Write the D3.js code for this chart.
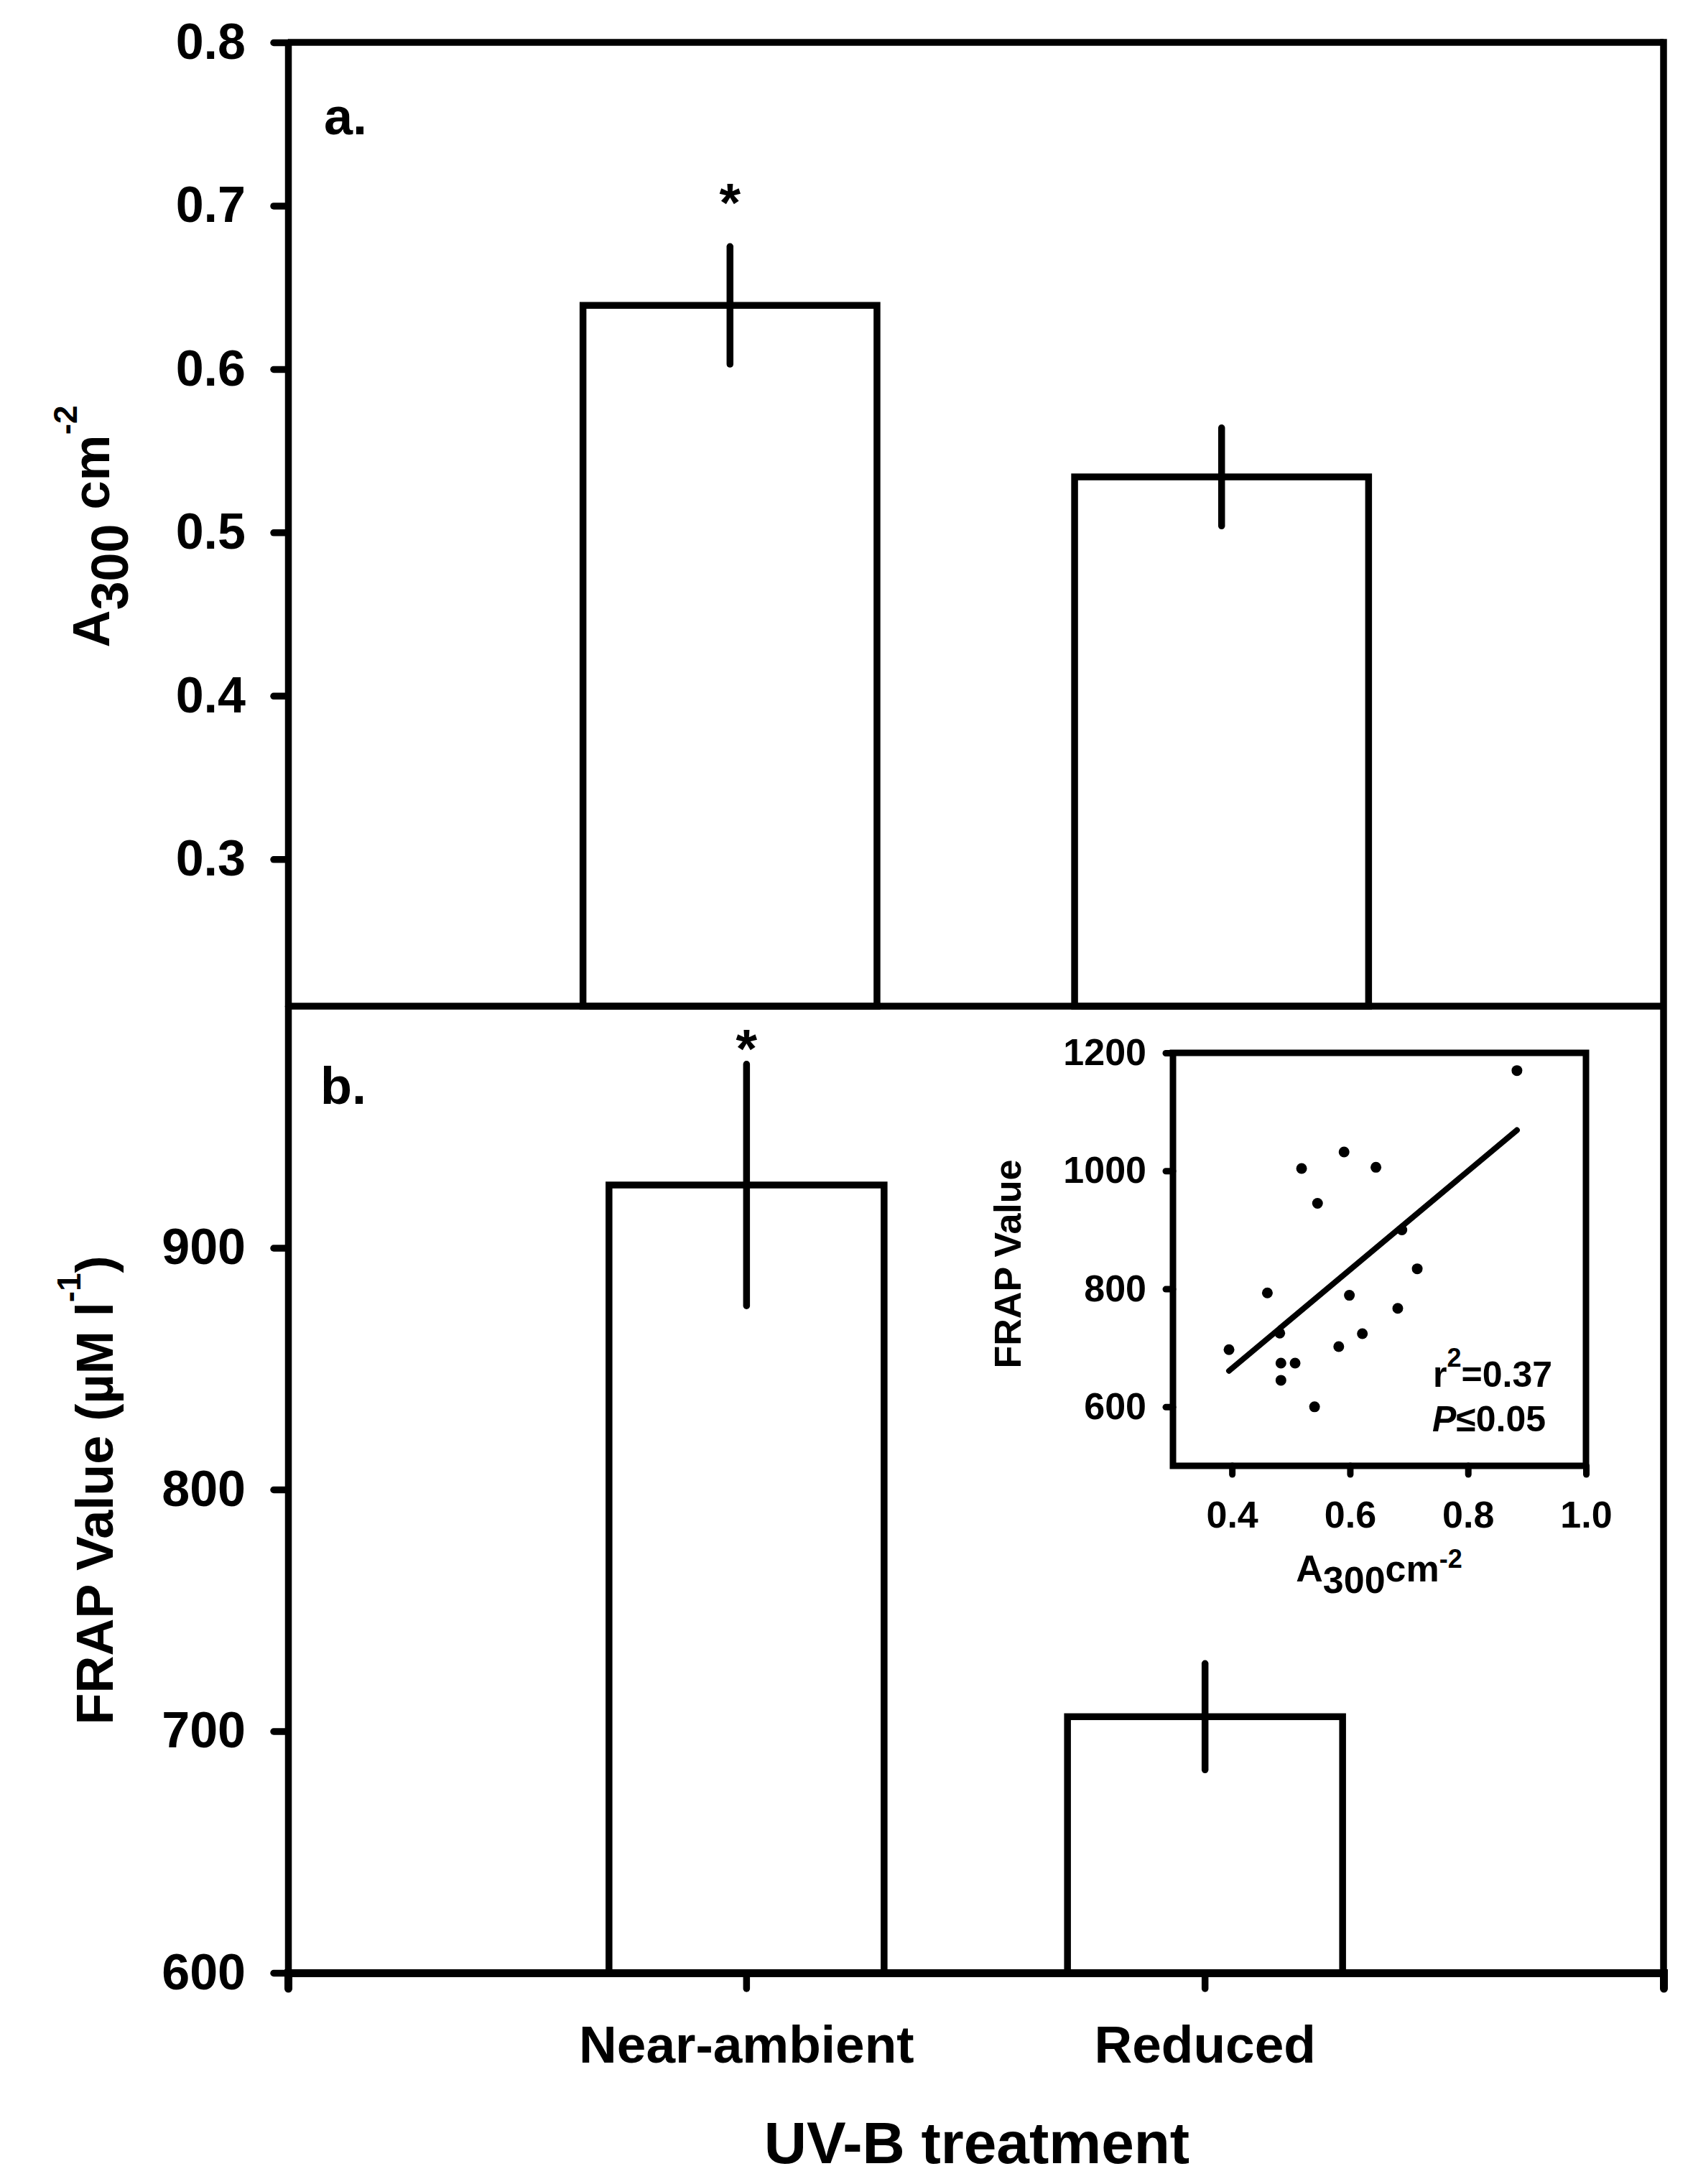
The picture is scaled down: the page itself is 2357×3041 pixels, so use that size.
<!DOCTYPE html>
<html>
<head>
<meta charset="utf-8">
<script src="https://cdn.jsdelivr.net/npm/d3@7"></script>
<style>
    body { margin: 0; background: #fff; }
    svg { display: block; background: #fff; }
    .axis line, .axis path { stroke: #000; stroke-linecap: round; }
    text { font-family: "Liberation Sans", Arial, sans-serif; font-weight: bold; fill: #000; }
</style>
</head>
<body>
<div id="chart"></div>
<script>
// treatment groups
const categories = ["Near-ambient", "Reduced"];

// panel a: A300 per cm2
const a300Means = [0.639, 0.534];
const a300Err = [0.036, 0.030];
const a300Ticks = [0.3, 0.4, 0.5, 0.6, 0.7, 0.8];

// panel b: FRAP value
const frapMeans = [926, 706];
const frapErr = [50, 22];
const frapTicks = [600, 700, 800, 900];

// which groups got the asterisk
const significant = [true, false];

// inset scatter, A300 vs FRAP
const scatterA300 = [0.883, 0.590, 0.518, 0.644, 0.545, 0.688, 0.714, 0.460, 0.599,
                     0.681, 0.481, 0.621, 0.581, 0.395, 0.483, 0.507, 0.483, 0.540];
const scatterFrap = [1170, 1032, 1004, 1006, 945, 900, 834, 793, 789,
                     767, 725, 724, 702, 697, 674, 674, 645, 600];
const fitA300 = [0.395, 0.883];
const fitFrap = [661, 1069];
const insetXTicks = [0.4, 0.6, 0.8, 1.0];
const insetYTicks = [600, 800, 1000, 1200];

const width = 2357, height = 3041;
const left = 401, right = 2316;
const topA = 59, mid = 1401, bottomB = 2747;
const lw = 9.5;

const svg = d3.select("#chart").append("svg")
    .attr("width", width)
    .attr("height", height);

const yA = d3.scaleLinear().domain([0.21, 0.8]).range([mid, topA]);
const yB = d3.scaleLinear().domain([600, 1000]).range([bottomB, mid]);

const xA = d3.scaleBand().domain(categories).range([left, right])
    .paddingInner(0.402).paddingOuter(0.6);
const xB = d3.scaleBand().domain(categories).range([left, right])
    .paddingInner(0.4).paddingOuter(0.7);

function styleAxis(g, size, sw) {
    g.attr("font-size", size)
        .attr("font-family", null);
    g.selectAll("line").attr("stroke-width", sw);
    g.selectAll("path").attr("stroke-width", sw);
}

function drawBars(x, y, means, errs, base, starGap) {
    const data = categories.map((c, i) => ({ cat: c, m: means[i], e: errs[i], sig: significant[i] }));

    svg.append("g").selectAll("rect")
        .data(data)
        .enter().append("rect")
        .attr("x", d => x(d.cat))
        .attr("y", d => y(d.m))
        .attr("width", x.bandwidth())
        .attr("height", d => base - y(d.m))
        .attr("fill", "#fff")
        .attr("stroke", "#000")
        .attr("stroke-width", lw);

    svg.append("g").selectAll("line")
        .data(data)
        .enter().append("line")
        .attr("x1", d => x(d.cat) + x.bandwidth() / 2)
        .attr("x2", d => x(d.cat) + x.bandwidth() / 2)
        .attr("y1", d => y(d.m + d.e))
        .attr("y2", d => y(d.m - d.e))
        .attr("stroke", "#000")
        .attr("stroke-width", lw)
        .attr("stroke-linecap", "round");

    svg.append("g").selectAll("text")
        .data(data.filter(d => d.sig))
        .enter().append("text")
        .attr("x", d => x(d.cat) + x.bandwidth() / 2)
        .attr("y", d => y(d.m + d.e) - starGap + 41)
        .attr("text-anchor", "middle")
        .attr("font-size", 76)
        .text("*");
}

drawBars(xA, yA, a300Means, a300Err, mid, 76);
drawBars(xB, yB, frapMeans, frapErr, bottomB, 37);

// frame lines
const frame = svg.append("g").attr("stroke", "#000").attr("stroke-width", lw);
frame.append("line").attr("x1", left).attr("x2", right).attr("y1", topA).attr("y2", topA);
frame.append("line").attr("x1", left).attr("x2", right).attr("y1", mid).attr("y2", mid);
frame.append("line").attr("x1", right).attr("x2", right).attr("y1", topA - lw / 2).attr("y2", bottomB);

// axes
const axA = svg.append("g").attr("class", "axis")
    .attr("transform", `translate(${left},0)`)
    .call(d3.axisLeft(yA).tickValues(a300Ticks).tickFormat(d3.format(".1f"))
        .tickSize(20).tickSizeOuter(0).tickPadding(39));
styleAxis(axA, 70, lw);

const axB = svg.append("g").attr("class", "axis")
    .attr("transform", `translate(${left},0)`)
    .call(d3.axisLeft(yB).tickValues(frapTicks).tickFormat(d3.format("d"))
        .tickSize(20).tickSizeOuter(0).tickPadding(39));
styleAxis(axB, 70, lw);

const axX = svg.append("g").attr("class", "axis")
    .attr("transform", `translate(0,${bottomB})`)
    .call(d3.axisBottom(xB).tickSize(22).tickSizeOuter(22).tickPadding(51));
styleAxis(axX, 73, lw);
axX.select("path").attr("stroke-width", 11);

// panel letters
svg.append("text").attr("x", 451).attr("y", 187).attr("font-size", 72).text("a.");
svg.append("text").attr("x", 446).attr("y", 1537).attr("font-size", 72).text("b.");

// axis titles
const titleA = svg.append("text")
    .attr("transform", "translate(152,733) rotate(-90)")
    .attr("text-anchor", "middle")
    .attr("font-size", 72);
titleA.append("tspan").text("A");
titleA.append("tspan").attr("dy", 26).text("300");
titleA.append("tspan").attr("dy", -26).text(" cm");
titleA.append("tspan").attr("dy", -45).attr("font-size", 46).text("-2");

const titleB = svg.append("text")
    .attr("transform", "translate(157,2075) rotate(-90)")
    .attr("text-anchor", "middle")
    .attr("font-size", 72);
titleB.append("tspan").text("FRAP Value (\u00b5M l");
titleB.append("tspan").attr("dy", -45).attr("font-size", 46).text("-1");
titleB.append("tspan").attr("dy", 45).text(")");

svg.append("text")
    .attr("x", 1360).attr("y", 3012)
    .attr("text-anchor", "middle")
    .attr("font-size", 82)
    .text("UV-B treatment");

// inset scatter
const xi = d3.scaleLinear().domain([0.3, 1.0]).range([1633, 2208]);
const yi = d3.scaleLinear().domain([500, 1200]).range([2041, 1466]);

svg.append("rect")
    .attr("x", xi(0.3)).attr("y", yi(1200))
    .attr("width", xi(1.0) - xi(0.3))
    .attr("height", yi(500) - yi(1200))
    .attr("fill", "none")
    .attr("stroke", "#000")
    .attr("stroke-width", 9);

const iy = svg.append("g").attr("class", "axis")
    .attr("transform", `translate(${xi(0.3)},0)`)
    .call(d3.axisLeft(yi).tickValues(insetYTicks).tickFormat(d3.format("d"))
        .tickSize(10).tickPadding(27));
iy.select(".domain").remove();
styleAxis(iy, 52, 9);

const ix = svg.append("g").attr("class", "axis")
    .attr("transform", `translate(0,${yi(500)})`)
    .call(d3.axisBottom(xi).tickValues(insetXTicks).tickFormat(d3.format(".1f"))
        .tickSize(12).tickPadding(37));
ix.select(".domain").remove();
styleAxis(ix, 52, 9);

svg.append("g").selectAll("circle")
    .data(scatterA300.map((a, i) => ({ a: a, f: scatterFrap[i] })))
    .enter().append("circle")
    .attr("cx", d => xi(d.a))
    .attr("cy", d => yi(d.f))
    .attr("r", 7.5)
    .attr("fill", "#000");

svg.append("path")
    .datum(fitA300.map((a, i) => [a, fitFrap[i]]))
    .attr("d", d3.line().x(d => xi(d[0])).y(d => yi(d[1])))
    .attr("fill", "none")
    .attr("stroke", "#000")
    .attr("stroke-width", 8)
    .attr("stroke-linecap", "round");

svg.append("text")
    .attr("transform", "translate(1421,1760) rotate(-90)")
    .attr("text-anchor", "middle")
    .attr("font-size", 52)
    .text("FRAP Value");

const insetX = svg.append("text")
    .attr("x", 1920).attr("y", 2202)
    .attr("text-anchor", "middle")
    .attr("font-size", 52);
insetX.append("tspan").text("A");
insetX.append("tspan").attr("dy", 16).text("300");
insetX.append("tspan").attr("dy", -16).text("cm");
insetX.append("tspan").attr("dy", -19).attr("font-size", 36).text("-2");

const rText = svg.append("text").attr("x", 1995).attr("y", 1931).attr("font-size", 50);
rText.append("tspan").text("r");
rText.append("tspan").attr("dy", -28).attr("font-size", 36).text("2");
rText.append("tspan").attr("dy", 28).text("=0.37");

const pText = svg.append("text").attr("x", 1994).attr("y", 1993).attr("font-size", 50);
pText.append("tspan").attr("font-style", "italic").text("P");
pText.append("tspan").text("\u22640.05");
</script>
</body>
</html>
